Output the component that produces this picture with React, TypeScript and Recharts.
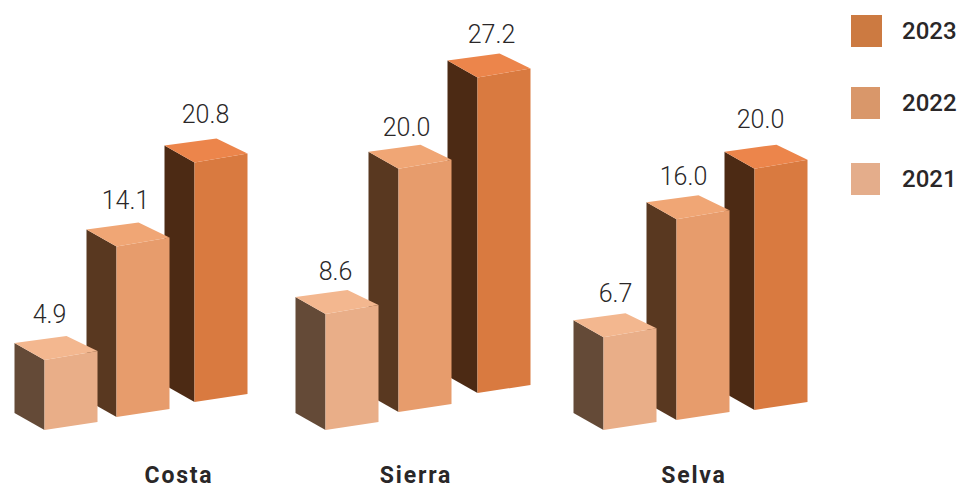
import { BarChart, Bar, XAxis, YAxis, Legend, LabelList } from 'recharts'

const categories = ['Costa', 'Sierra', 'Selva']
const values2023 = [20.8, 27.2, 20.0]
const values2022 = [14.1, 20.0, 16.0]
const values2021 = [4.9, 8.6, 6.7]

const data = categories.map((name, i) => ({
  name,
  y2023: values2023[i],
  y2022: values2022[i],
  y2021: values2021[i],
}))

const FONT = 'Roboto, sans-serif'
const TEXT = '#2a2728'
const BAR_W = 53
const BAR_GAP = 24
// bars are drawn 2023 first so that 2021 ends up in front, then moved back to their slot
const SLOT = BAR_W + BAR_GAP

const faces = {
  y2023: { legend: '#cc7a41', front: '#d97a40', top: '#ec854b', side: '#4c2a14', shift: SLOT * 2 },
  y2022: { legend: '#d9976a', front: '#e79c6c', top: '#f0a675', side: '#593820', shift: 0 },
  y2021: { legend: '#e4ad8b', front: '#e9ae88', top: '#f3b78f', side: '#644a37', shift: -SLOT * 2 },
}

// hand nudges per category, the original is a hand drawn 3d picture
const nudges = {
  y2023: { dx: [-1.5, 1.5, -1.5], dy: [4, 0, 0], lift: [20, 29, 12], labelDx: [9.5, 15.5, 4.5], labelDy: [-2, 3, -3] },
  y2022: { dx: [-2.5, -0.5, -2.5], dy: [3, 0, 0], lift: [5, 10, 2], labelDx: [6.5, 7.5, 4.5], labelDy: [0, 5, 3] },
  y2021: { dx: [2.5, 3.5, 1.5], dy: [0, 1, 0], lift: [-8, -8, -8], labelDx: [7.5, 13.5, 13.5], labelDy: [1, 3, 2] },
}

const categoryLabelDx = [34, -9, -11]
const legendTops = [15, 87, 163]
const legendWidths = [31, 29, 29]

type Key = keyof typeof faces

function Box3D(props: any, key: Key) {
  const { x, y, height, index } = props
  const f = faces[key]
  const n = nudges[key]
  const fx = x + f.shift + n.dx[index]
  const fy = y + n.dy[index]
  const base = y + height - n.lift[index]
  const rx = fx + BAR_W
  const lx = fx - 30
  return (
    <g>
      <polygon points={`${lx},${fy - 17} ${fx},${fy} ${fx},${base} ${lx},${base - 17}`} fill={f.side} />
      <polygon points={`${fx},${fy} ${rx},${fy - 9} ${rx},${base - 8} ${fx},${base}`} fill={f.front} />
      <polygon points={`${lx},${fy - 17} ${fx + 22},${fy - 24} ${rx},${fy - 9} ${fx},${fy}`} fill={f.top} />
    </g>
  )
}

function ValueLabel(props: any, key: Key) {
  const { x, y, value, index } = props
  const f = faces[key]
  const n = nudges[key]
  return (
    <text
      x={x + f.shift + n.labelDx[index]}
      y={y + n.dy[index] - 46 + n.labelDy[index]}
      textAnchor="middle"
      dominantBaseline="central"
      fontFamily={FONT}
      fontWeight={300}
      fontSize={25}
      fill={TEXT}
    >
      {Number(value).toFixed(1)}
    </text>
  )
}

function CategoryTick({ x, payload }: any) {
  return (
    <text
      x={x + categoryLabelDx[payload.index]}
      y={475}
      textAnchor="middle"
      dominantBaseline="central"
      fontFamily={FONT}
      fontWeight={700}
      fontSize={23}
      letterSpacing={1.8}
      fill={TEXT}
    >
      {payload.value}
    </text>
  )
}

function LegendBox({ payload }: any) {
  return (
    <div>
      {(payload || []).map((item: any, i: number) => (
        <div key={item.value}>
          <div
            style={{
              position: 'absolute',
              left: 851,
              top: legendTops[i],
              width: legendWidths[i],
              height: 32,
              background: item.color,
            }}
          />
          <div
            style={{
              position: 'absolute',
              left: 902,
              top: legendTops[i],
              height: 32,
              lineHeight: '32px',
              fontFamily: FONT,
              fontWeight: 500,
              fontSize: 24,
              color: TEXT,
            }}
          >
            {item.value}
          </div>
        </div>
      ))}
    </div>
  )
}

export default function App() {
  return (
    <div style={{ position: 'absolute', left: 0, top: 0, width: 959, height: 489, background: '#fff' }}>
      <BarChart
        width={959}
        height={489}
        data={data}
        margin={{ top: 42, right: 114, bottom: 37, left: 5 }}
        barSize={BAR_W}
        barGap={BAR_GAP}
      >
        <XAxis dataKey="name" height={30} axisLine={false} tickLine={false} tick={CategoryTick} interval={0} />
        <YAxis hide domain={[0, 30]} />
        <Legend
          layout="vertical"
          align="center"
          content={LegendBox}
          itemSorter={(item: any) => -Number(item.value)}
          wrapperStyle={{ position: 'absolute', left: 0, top: 0, width: 0, height: 0 }}
        />
        {(['y2023', 'y2022', 'y2021'] as Key[]).map((key) => (
          <Bar
            key={key}
            dataKey={key}
            name={key.slice(1)}
            fill={faces[key].legend}
            isAnimationActive={false}
            shape={(p: any) => Box3D(p, key)}
          >
            <LabelList dataKey={key} content={(p: any) => ValueLabel(p, key)} />
          </Bar>
        ))}
      </BarChart>
    </div>
  )
}
